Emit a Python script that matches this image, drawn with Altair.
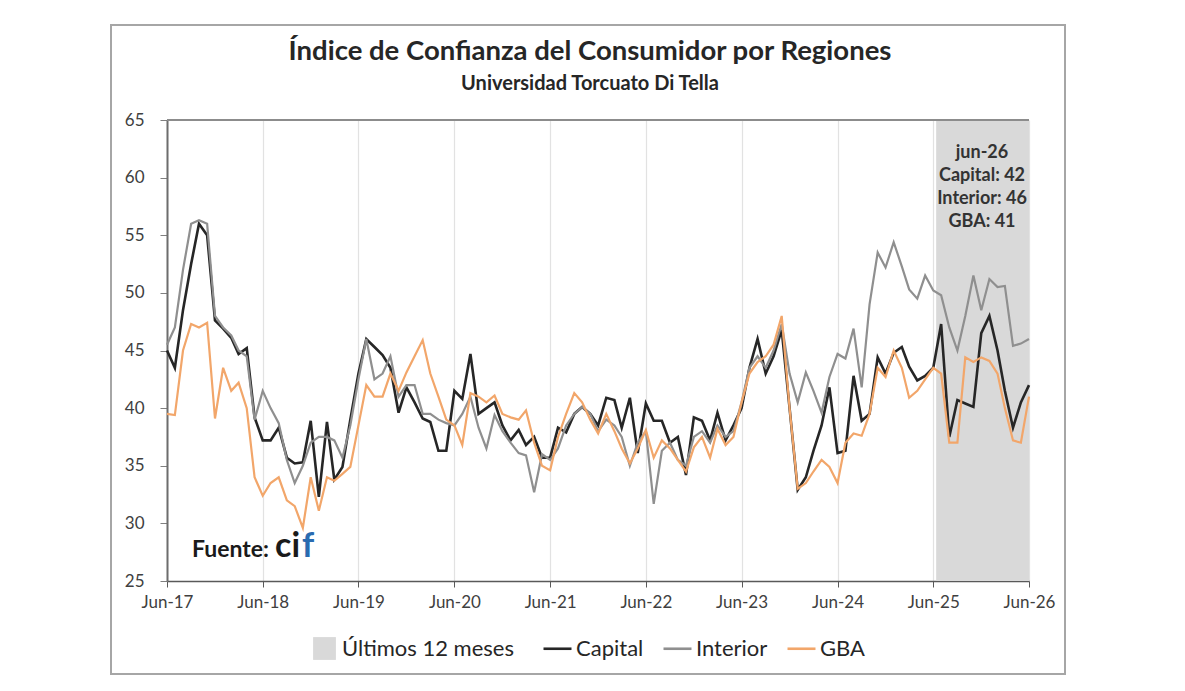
import altair as alt
import pandas as pd

# Monthly index values, Jun-2017 .. Jun-2026
meses = pd.date_range("2017-06-01", "2026-06-01", freq="MS").strftime("%Y-%m-%d").tolist()

capital = [
    45.0, 43.5, 48.5, 52.5, 56.0, 55.0, 47.6, 46.9, 46.1, 44.7, 45.2, 39.2, 37.2, 37.2, 38.3, 35.7, 35.2, 35.3, 38.9,
    32.3, 38.8, 33.8, 34.9, 39.0, 43.0, 46.0, 45.3, 44.6, 43.5, 39.6, 41.8, 40.5, 39.1, 38.8, 36.3, 36.3,
    41.5, 40.8, 44.7, 39.5, 40.0, 40.5, 38.5, 37.2, 38.1, 36.8, 37.5, 35.7, 35.7, 38.3, 37.9, 39.5, 40.1,
    39.5, 38.5, 40.9, 40.7, 38.3, 40.9, 36.1, 40.4, 38.9, 38.9, 37.0, 37.5, 34.2, 39.2, 38.9, 37.2, 39.6, 37.2, 38.5,
    40.0, 43.5, 46.0, 43.0, 44.5, 46.8, 40.0, 32.9, 34.0, 36.3, 38.5, 41.8, 36.1, 36.3, 42.8, 38.9,
    39.5, 44.4, 43.0, 44.8, 45.3, 43.6, 42.4, 42.8, 43.5, 47.3, 37.5, 40.7, 40.4, 40.1, 46.5, 48.0, 45.0, 41.5, 38.3, 40.5, 42.0,
]
interior = [
    45.5, 47.0, 52.0, 56.0, 56.3, 56.0, 48.0, 47.0, 46.3, 45.0, 44.5, 39.0, 41.5, 40.0, 38.7, 35.5, 33.5, 35.0, 37.0,
    37.5, 37.5, 37.2, 35.7, 38.5, 42.5, 46.0, 42.5, 43.0, 44.5, 41.0, 42.0, 42.0, 39.5, 39.5, 39.0, 38.7,
    38.5, 39.5, 41.0, 38.3, 36.5, 39.4, 38.0, 37.0, 36.1, 35.9, 32.7, 36.0, 35.5, 36.5, 38.5, 39.5, 40.1,
    39.5, 38.0, 39.0, 38.5, 37.5, 35.0, 37.0, 38.0, 31.7, 36.3, 37.0, 35.5, 35.0, 37.5, 38.0, 37.0, 38.5, 37.5, 38.0,
    40.5, 43.5, 44.5, 43.5, 45.0, 47.3, 43.0, 40.5, 43.1, 41.5, 39.6, 42.7, 44.7, 44.3, 46.9, 41.8,
    49.0, 53.5, 52.2, 54.4, 52.3, 50.3, 49.5, 51.5, 50.2, 49.8, 47.0, 45.0, 48.0, 51.5, 48.5, 51.2, 50.5, 50.6, 45.4, 45.6, 46.0,
]
gba = [
    39.5, 39.4, 45.0, 47.3, 47.0, 47.4, 39.1, 43.5, 41.5, 42.2, 40.0, 34.0, 32.4, 33.5, 34.0, 32.0, 31.5, 29.6, 34.0,
    31.1, 34.0, 33.7, 34.3, 34.9, 38.5, 42.0, 41.0, 41.0, 43.0, 41.5, 43.1, 44.5, 45.9, 43.0, 41.0, 39.0,
    38.5, 36.8, 41.3, 41.0, 40.5, 41.1, 39.5, 39.2, 39.0, 39.8, 37.0, 35.0, 34.6, 37.5, 39.5, 41.3, 40.5,
    39.0, 37.8, 39.5, 38.0, 36.5, 35.2, 36.5, 38.1, 35.7, 37.2, 36.5, 35.5, 34.5, 36.6, 37.5, 35.7, 38.2, 36.8, 37.5,
    40.5, 43.0, 44.0, 44.5, 45.5, 48.0, 40.0, 33.0, 33.5, 34.5, 35.5, 34.9, 33.5, 37.0, 37.8, 37.6,
    39.5, 43.5, 42.7, 45.0, 43.5, 40.9, 41.5, 42.5, 43.5, 43.0, 37.0, 37.0, 44.4, 44.0, 44.4, 44.1, 43.0, 40.0, 37.2, 37.0, 41.0,
]

series = ["Capital", "Interior", "GBA"]
colores = ["#262626", "#8f8f8f", "#f2a66a"]
grosores = [2.6, 2.2, 2.2]

sombra_etiqueta = "Últimos 12 meses"
sombra_inicio = "2025-06-12"
sombra_fin = "2026-06-01"

anios = list(range(2017, 2027))
y_ticks = [25, 30, 35, 40, 45, 50, 55, 60, 65]

titulo = "Índice de Confianza del Consumidor por Regiones"
subtitulo = "Universidad Torcuato Di Tella"

FONT = "Lato"
W, H = 862, 461

valores = {"Capital": capital, "Interior": interior, "GBA": gba}
df = pd.DataFrame(
    [{"fecha": f, "serie": s, "valor": v} for s in series for f, v in zip(meses, valores[s])]
)

x_scale = alt.Scale(
    type="utc",
    domain=[alt.DateTime(year=2017, month=6, date=1, utc=True),
            alt.DateTime(year=2026, month=6, date=1, utc=True)],
    nice=False,
)
y_scale = alt.Scale(domain=[25, 65], nice=False, zero=False)

x_axis = alt.Axis(
    title=None,
    values=[alt.DateTime(year=a, month=6, date=1, utc=True) for a in anios],
    labelExpr="utcFormat(datum.value, '%b-%y')",
    labelFont=FONT,
    labelFontSize=17,
    labelColor="#404040",
    labelPadding=7,
    labelFlush=False,
    labelOverlap=False,
    tickSize=6,
    tickColor="#595959",
    domainColor="#595959",
    domainWidth=1.5,
    grid=True,
    gridColor="#e2e2e2",
    gridWidth=1.2,
)
y_axis = alt.Axis(
    title=None,
    values=y_ticks,
    labelFont=FONT,
    labelFontSize=17,
    labelColor="#404040",
    labelPadding=16,
    tickSize=7,
    tickColor="#7f7f7f",
    domainColor="#6d6d6d",
    domainWidth=2,
    grid=False,
)

# Shaded "last 12 months" band
sombra = alt.Chart(pd.DataFrame({"ini": [sombra_inicio], "fin": [sombra_fin], "etiqueta": [sombra_etiqueta]})).mark_rect(
    opacity=1
).encode(
    x=alt.X("ini:T", scale=x_scale, axis=x_axis),
    x2="fin:T",
    y=alt.value(0),
    y2=alt.value(H),
    fill=alt.Fill(
        "etiqueta:N",
        scale=alt.Scale(domain=[sombra_etiqueta], range=["#d9d9d9"]),
        legend=alt.Legend(
            title=None, orient="none", legendX=146, legendY=517,
            symbolType="square", symbolSize=520, symbolStrokeWidth=0,
            labelFont=FONT, labelFontSize=22, labelColor="#262626",
            labelOffset=6, labelLimit=400, padding=0,
        ),
    ),
)

stroke_enc = alt.Stroke(
    "serie:N",
    scale=alt.Scale(domain=series, range=colores),
    legend=alt.Legend(
        title=None, orient="none", legendX=375, legendY=513, direction="horizontal",
        symbolType="stroke", symbolSize=784, symbolStrokeWidth=2.6,
        labelFont=FONT, labelFontSize=22, labelColor="#262626",
        labelOffset=3, columnPadding=14, labelLimit=400, padding=0,
    ),
)

lineas = []
for s, g in zip(series, grosores):
    lineas.append(
        alt.Chart(df[df["serie"] == s]).mark_line(strokeWidth=g, strokeJoin="miter").encode(
            x=alt.X("fecha:T", scale=x_scale, axis=x_axis),
            y=alt.Y("valor:Q", scale=y_scale, axis=y_axis),
            stroke=stroke_enc,
        )
    )

uno = pd.DataFrame({"k": [0]})

borde_sup = alt.Chart(uno).mark_rule(color="#8c8c8c", strokeWidth=2).encode(
    x=alt.value(0), x2=alt.value(W), y=alt.value(0)
)

marco = alt.Chart(uno).mark_rect(fillOpacity=0, stroke="#a6a6a6", strokeWidth=2).encode(
    x=alt.value(-56), x2=alt.value(898), y=alt.value(-95), y2=alt.value(554)
)

t_titulo = alt.Chart(pd.DataFrame({"t": [titulo]})).mark_text(
    font=FONT, fontSize=27.5, fontWeight="bold", color="#262626", align="center", baseline="alphabetic"
).encode(x=alt.value(423), y=alt.value(-60), text="t:N")

t_sub = alt.Chart(pd.DataFrame({"t": [subtitulo]})).mark_text(
    font=FONT, fontSize=20, fontWeight="bold", color="#262626", align="center", baseline="alphabetic"
).encode(x=alt.value(423), y=alt.value(-30), text="t:N")

nota = "jun-26\nCapital: {:.0f}\nInterior: {:.0f}\nGBA: {:.0f}".format(capital[-1], interior[-1], gba[-1])
t_nota = alt.Chart(pd.DataFrame({"t": [nota]})).mark_text(
    font=FONT, fontSize=18, fontWeight="bold", color="#333333", align="center",
    baseline="middle", lineBreak="\n", lineHeight=23
).encode(x=alt.value(815), y=alt.value(33), text="t:N")

t_fuente = alt.Chart(pd.DataFrame({"t": ["Fuente:"]})).mark_text(
    font=FONT, fontSize=23, fontWeight="bold", color="#1a1a1a", align="left", baseline="alphabetic"
).encode(x=alt.value(25), y=alt.value(437), text="t:N")

t_ci = alt.Chart(pd.DataFrame({"t": ["ci"]})).mark_text(
    font=FONT, fontSize=34, fontWeight="bold", color="#1a1a1a", align="left", baseline="alphabetic"
).encode(x=alt.value(108), y=alt.value(437), text="t:N")

t_f = alt.Chart(pd.DataFrame({"t": ["f"]})).mark_text(
    font=FONT, fontSize=34, fontWeight="bold", color="#2a6bb0", align="left", baseline="alphabetic"
).encode(x=alt.value(135), y=alt.value(437), text="t:N")

chart = alt.layer(
    sombra, *lineas, borde_sup, marco, t_titulo, t_sub, t_nota, t_fuente, t_ci, t_f
).properties(
    width=W,
    height=H,
    autosize=alt.AutoSizeParams(type="none"),
    padding={"left": 167, "top": 120, "right": 156, "bottom": 110},
    background="white",
).configure_view(stroke=None)

chart.save("out.html", embed_options={"renderer": "svg", "actions": False})
